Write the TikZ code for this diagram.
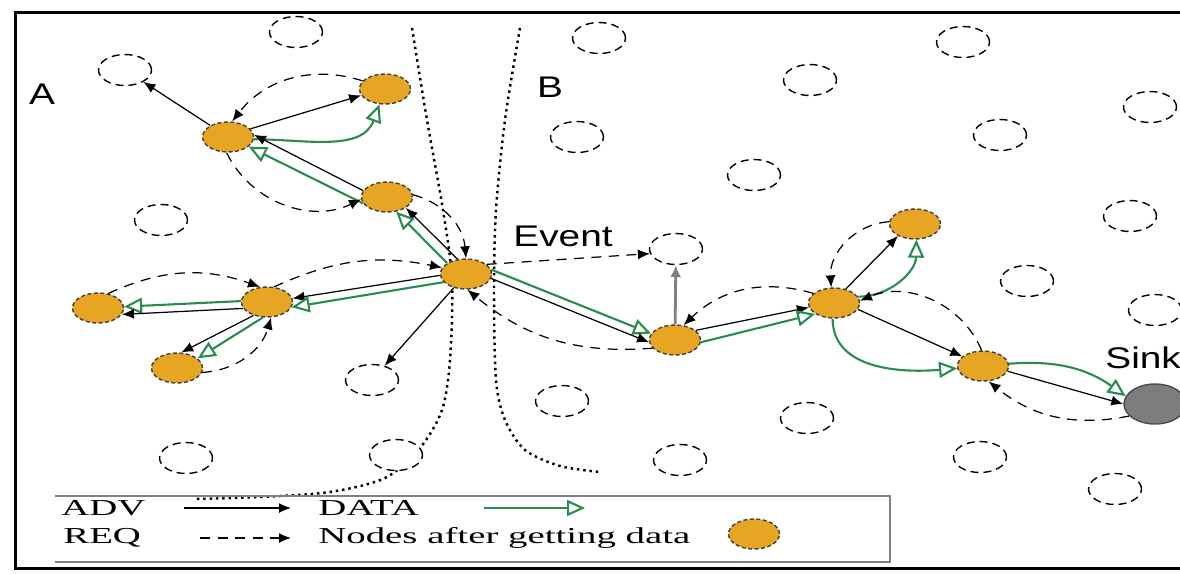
\documentclass[tikz,border=0pt]{standalone}
\usepackage{fontspec}
\setmainfont{Liberation Serif}
\newfontfamily\legfont[FakeStretch=1.7]{Liberation Serif}
\newfontfamily\labfont[FakeStretch=1.3]{Liberation Sans}
\usetikzlibrary{shapes.geometric,arrows.meta}
\definecolor{dataGreen}{RGB}{40,140,80}
\definecolor{nodeOrange}{RGB}{230,165,35}
\definecolor{sinkGray}{RGB}{125,125,125}

\begin{document}
\begin{tikzpicture}[x=0.2mm,y=-0.2mm]
	\tikzstyle{idle}=[ellipse,draw,line width=0.8pt,dash pattern=on 1.6mm off 1mm,fill=white,minimum width=10.6mm,minimum height=6.2mm,inner sep=0]
	\tikzstyle{got}=[ellipse,draw=black!75,line width=0.8pt,dash pattern=on 0.8mm off 0.5mm,fill=nodeOrange,minimum width=10.2mm,minimum height=6mm,inner sep=0]
	\tikzstyle{sinknode}=[ellipse,draw=black!70,line width=0.8pt,fill=sinkGray,minimum width=12.4mm,minimum height=8mm,inner sep=0]
	\tikzstyle{advarr}=[-{Latex[length=2.4mm,width=2mm]},line width=0.7pt]
	\tikzstyle{reqarr}=[advarr,dash pattern=on 2mm off 1.5mm]
	\tikzstyle{datarr}=[-{Triangle[open,length=3.6mm,width=3.2mm]},line width=1.2pt,draw=dataGreen]
	\tikzstyle{grayarr}=[-{Latex[length=2.4mm,width=2.2mm]},line width=1.6pt,draw=gray]
	\tikzstyle{boundary}=[line width=1.4pt,dash pattern=on 1.4pt off 2.2pt]
	\tikzstyle{lab}=[font=\labfont\fontsize{17}{19}\selectfont,inner sep=0]
	\tikzstyle{leg}=[font=\legfont\fontsize{13}{15}\selectfont,inner sep=0,anchor=west]

	\useasboundingbox (0,0) rectangle (1180,573);
	\draw[line width=0.6mm] (1190,12) -- (15,12) -- (15,568) -- (1190,568);

	\draw[boundary] plot[smooth] coordinates {(412,28) (427,120) (443,210) (452,280) (450,360) (442,410) (420,448) (385,478) (330,492) (260,497) (195,499)};
	\draw[boundary] plot[smooth] coordinates {(520,28) (505,120) (496,210) (494,290) (496,380) (505,420) (525,450) (560,466) (600,472)};

	\node [idle] (e1) at (125,70) {};
	\node [idle] (e2) at (296,32) {};
	\node [idle] (e3) at (161,220) {};
	\node [idle] (e4) at (599,38) {};
	\node [idle] (e5) at (577,137) {};
	\node [idle] (e6) at (754,175) {};
	\node [idle] (e7) at (963,42) {};
	\node [idle] (e8) at (810,80) {};
	\node [idle] (e9) at (1000,135) {};
	\node [idle] (e10) at (1150,107) {};
	\node [idle] (e11) at (1130,216) {};
	\node [idle] (e12) at (1027,281) {};
	\node [idle] (e13) at (1155,310) {};
	\node [idle] (e14) at (676,249) {};
	\node [idle] (e15) at (372,380) {};
	\node [idle] (e16) at (562,401) {};
	\node [idle] (e17) at (807,418) {};
	\node [idle] (e18) at (680,460) {};
	\node [idle] (e19) at (980,457) {};
	\node [idle] (e20) at (1115,489) {};
	\node [idle] (e21) at (186,458) {};
	\node [idle] (e22) at (396,455) {};

	\node [got] (o1) at (228,137) {};
	\node [got] (o2) at (385,89) {};
	\node [got] (o3) at (387,197) {};
	\node [got] (o4) at (466,274) {};
	\node [got] (o5) at (267,302) {};
	\node [got] (o6) at (98,308) {};
	\node [got] (o7) at (177,368) {};
	\node [got] (o8) at (675,340) {};
	\node [got] (o9) at (915,224) {};
	\node [got] (o10) at (834,303) {};
	\node [got] (o11) at (983,366) {};
	\node [sinknode] (sink) at (1155,404) {};

	\node [lab] (labA) at (42,94) {A};
	\node [lab] (labB) at (550,87) {B};
	\node [lab] (evt) at (563,236) {Event};
	\node [lab,anchor=west] (snk) at (1105,358) {Sink};

	\draw[advarr] (o1) -- (e1);
	\draw[advarr] (o1.20) -- (o2.195);
	\draw[reqarr] (o2.160) to[bend right=35] (o1.75);
	\draw[datarr] (o1.-5) to[out=0,in=-110] (o2.-110);

	\draw[advarr] (o3.165) -- (o1.5);
	\draw[datarr] (o3.195) -- (o1.-25);
	\draw[reqarr] (o1.-95) to[bend right=45] (o3.185);

	\draw[advarr] (o4.120) -- (o3.-30);
	\draw[datarr] (o4.150) -- (o3.-58);
	\draw[reqarr] (o3.5) to[bend left=35] (o4.90);

	\draw[advarr] (o4.183) -- (o5.8);
	\draw[datarr] (o4.200) -- (o5.-12);
	\draw[reqarr] (o5.65) to[bend left=18] (o4.165);

	\draw[datarr] (o5.178) -- (o6.3);
	\draw[advarr] (o5.195) -- (o6.-15);
	\draw[reqarr] (o6.55) to[bend left=22] (o5.115);

	\draw[advarr] (o5.225) -- (o7.75);
	\draw[datarr] (o5.255) -- (o7.25);
	\draw[reqarr] (o7.-10) to[bend right=35] (o5.-75);

	\draw[advarr] (o4) -- (e15);

	\draw[datarr] (o4.10) -- (o8.165);
	\draw[advarr] (o4.-10) -- (o8.185);
	\draw[reqarr] (o8.200) to[bend left=22] (o4.-85);
	\draw[reqarr] (o4.25) -- (e14.190);
	\draw[grayarr] (o8) -- (e14);

	\draw[advarr] (o8.25) -- (o10.190);
	\draw[datarr] (o8.-5) -- (o10.-150);
	\draw[reqarr] (o10.155) to[bend right=30] (o8.60);

	\draw[advarr] (o10.50) -- (o9.215);
	\draw[reqarr] (o9.175) to[bend right=45] (o10.100);
	\draw[datarr] (o10.15) to[bend right=45] (o9.-85);

	\draw[advarr] (o10.-15) -- (o11.155);
	\draw[reqarr] (o11.95) to[bend right=45] (o10.5);
	\draw[datarr] (o10.-95) to[out=-90,in=185] (o11.185);

	\draw[datarr] (o11.5) to[bend left=20] (sink.165);
	\draw[advarr] (o11.-12) -- (sink.180);
	\draw[reqarr] (sink.205) to[bend left=25] (o11.-70);

	\draw[gray,line width=0.4mm] (55,496) -- (890,496) -- (890,562) -- (55,562);
	\node [leg] (advtxt) at (61,508) {ADV};
	\coordinate (adva) at (184,508);
	\coordinate (advb) at (291,508);
	\draw[advarr] (adva) -- (advb);
	\node [leg] (datatxt) at (318,508) {DATA};
	\coordinate (dataa) at (484,508);
	\coordinate (datab) at (585,508);
	\draw[datarr] (dataa) -- (datab);
	\node [leg] (reqtxt) at (63,538) {REQ};
	\coordinate (reqa) at (200,538);
	\coordinate (reqb) at (291,538);
	\draw[reqarr] (reqa) -- (reqb);
	\node [leg] (gottxt) at (318,538) {Nodes after getting data};
	\node [got] (gotkey) at (754,534) {};
\end{tikzpicture}
\end{document}
